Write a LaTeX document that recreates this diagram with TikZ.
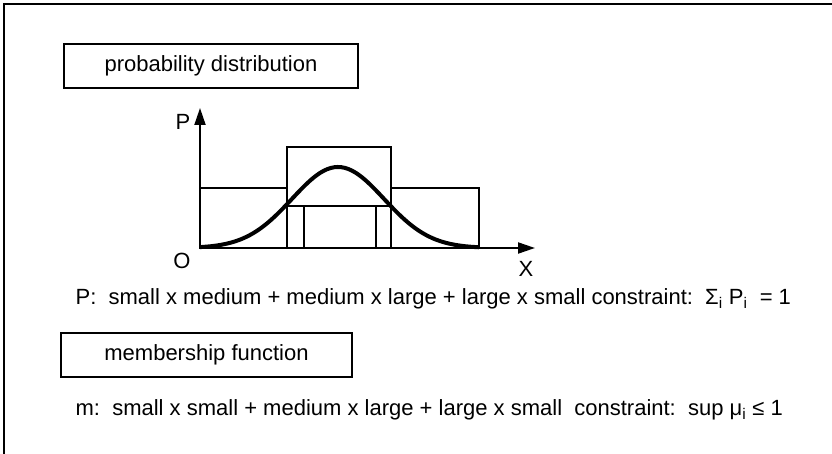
\documentclass[tikz,border=0pt]{standalone}
\usepackage{fontspec}
\setmainfont{Liberation Sans}
\usetikzlibrary{arrows.meta}
\begin{document}
\begin{tikzpicture}[x=1pt, y=-1pt, line width=1.3pt,
  font=\fontsize{22}{26}\selectfont,
  axis/.style={line width=2pt, -{Triangle[length=17pt,width=11pt]}}]
\useasboundingbox (0,0) rectangle (832,454);
\draw[line width=2pt] (4,454) -- (4,4) -- (832,4);
\node[draw, rectangle, minimum width=294pt, minimum height=44pt] (pd) at (211,66) {probability distribution};
% axes
\coordinate (O) at (200,248);
\coordinate (ptop) at (200,108);
\coordinate (xend) at (535,248);
\draw[axis] (O) -- (ptop);
\draw[axis] (O) -- (xend);
\node (plab) at (183,122) {P};
\node (olab) at (182,261) {O};
\node (xlab) at (526,269) {X};
% bars
\draw (200,248) rectangle (287,188);
\draw (287,206) rectangle (391,147);
\draw (391,248) rectangle (479,188);
\draw (304,206) -- (304,248);
\draw (376,206) -- (376,248);
\draw[line width=4pt] plot[domain=200:479, samples=80] (\x, {248-81*exp(-((\x-338)/46)^2/2)});
\node[anchor=west, inner sep=0pt] (pline) at (75,299) {P:\ \ small x medium + medium x large + large x small constraint:\ \ Σ\textsubscript{i} P\textsubscript{i}\ \ = 1};
\node[draw, rectangle, minimum width=291pt, minimum height=44pt] (mf) at (206.5,355) {membership function};
\node[anchor=west, inner sep=0pt] (mline) at (75,410) {m:\ \ small x small + medium x large + large x small\ \ constraint:\ \ sup μ\textsubscript{i} ≤ 1};
\end{tikzpicture}
\end{document}
